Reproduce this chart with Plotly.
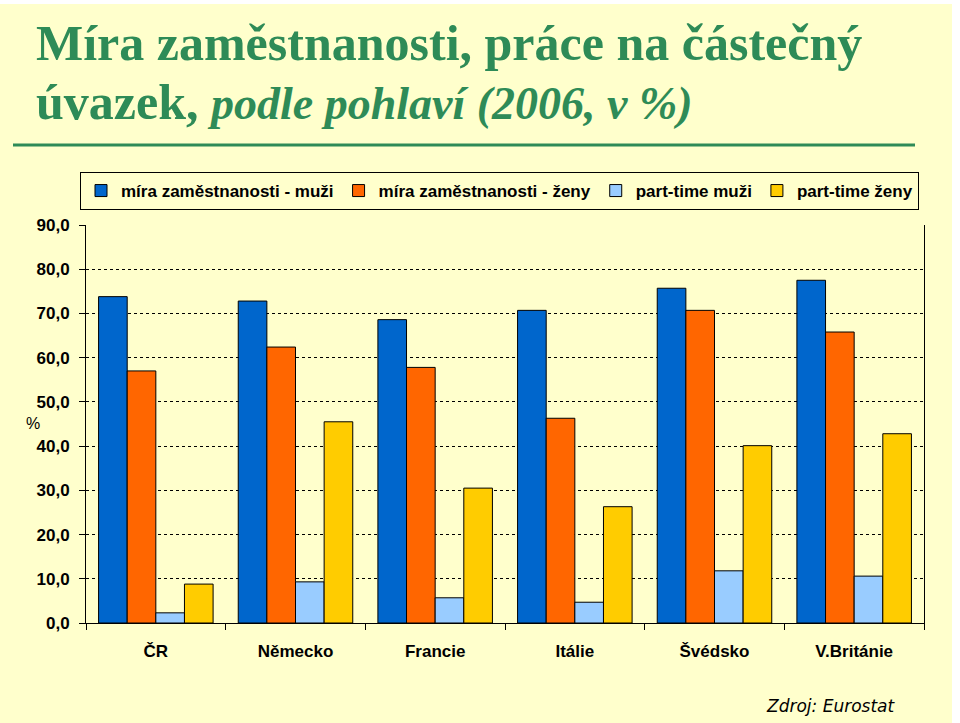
import plotly.graph_objects as go

# data
countries = ["ČR", "Německo", "Francie", "Itálie", "Švédsko", "V.Británie"]
rate_men = [73.8, 72.8, 68.6, 70.7, 75.7, 77.5]
rate_women = [57.0, 62.4, 57.8, 46.3, 70.7, 65.8]
parttime_men = [2.3, 9.3, 5.7, 4.7, 11.8, 10.6]
parttime_women = [8.8, 45.5, 30.5, 26.3, 40.1, 42.8]

series_names = ["míra zaměstnanosti - muži", "míra zaměstnanosti - ženy",
                "part-time muži", "part-time ženy"]
y_ticks = [0, 10, 20, 30, 40, 50, 60, 70, 80, 90]

colors = ["#0066CC", "#FF6600", "#99CCFF", "#FFCC00"]
bg = "#FFFFCC"
green = "#2E8B57"

# plot area in pixels: x 86..924, y 225..623
W, H = 838, 398
def px(x):
    return (x - 86) / W
def py(y):
    return (623 - y) / H

fig = go.Figure()
for name, vals, col in zip(series_names,
                           [rate_men, rate_women, parttime_men, parttime_women],
                           colors):
    fig.add_trace(go.Bar(x=countries, y=vals, name=f"<b>{name}</b>",
                         marker=dict(color=col, line=dict(color="black", width=1))))

fig.update_layout(
    width=960, height=723,
    margin=dict(l=86, r=36, t=225, b=100),
    paper_bgcolor=bg, plot_bgcolor=bg,
    barmode="group", bargap=0.18, bargroupgap=0,
    font=dict(family="Liberation Sans", color="black", size=17),
    legend=dict(
        orientation="h", x=px(80), xanchor="left", y=py(172), yanchor="top",
        bgcolor=bg, bordercolor="black", borderwidth=1,
        font=dict(size=17, family="Liberation Sans"),
        traceorder="normal", tracegroupgap=0,
    ),
)

fig.update_xaxes(
    type="category", showgrid=False, showline=True, linecolor="black", linewidth=1,
    ticks="outside", tickson="boundaries", ticklen=6, tickcolor="black",
    tickvals=countries, ticktext=[f"<b>{c}</b>" for c in countries],
    tickfont=dict(size=17), ticklabelstandoff=13,
)
fig.update_yaxes(
    range=[0, 90], tickvals=y_ticks,
    ticktext=[f"<b>{v:.1f}</b>".replace(".", ",") for v in y_ticks],
    showline=True, linecolor="black", linewidth=1, mirror=True,
    ticks="outside", ticklen=6, tickcolor="black",
    showgrid=True, gridcolor="black", gridwidth=1, griddash="dot",
    zeroline=False, tickfont=dict(size=17), ticklabelstandoff=6,
)

# title, two lines
fig.add_annotation(text="<b>Míra zaměstnanosti, práce na částečný</b>",
                   xref="paper", yref="paper", x=px(34), xanchor="left",
                   y=py(43), yanchor="middle", showarrow=False,
                   font=dict(family="Liberation Serif", size=50, color=green))
fig.add_annotation(text="<b>úvazek, <i><span style='font-size:46px'>podle pohlaví (2006, v %)</span></i></b>",
                   xref="paper", yref="paper", x=px(34), xanchor="left",
                   y=py(102), yanchor="middle", showarrow=False,
                   font=dict(family="Liberation Serif", size=50, color=green))

# green rule under the title
fig.add_shape(type="line", xref="paper", yref="paper",
              x0=px(13), x1=px(915), y0=py(145), y1=py(145),
              line=dict(color=green, width=3))
# white edges of the slide
fig.add_shape(type="rect", xref="paper", yref="paper",
              x0=px(-10), x1=px(970), y0=py(4), y1=py(-10),
              fillcolor="white", line=dict(width=0), layer="below")
fig.add_shape(type="rect", xref="paper", yref="paper",
              x0=px(952), x1=px(970), y0=py(740), y1=py(-10),
              fillcolor="white", line=dict(width=0), layer="below")

fig.add_annotation(text="%", xref="paper", yref="paper", x=px(24), y=py(423),
                   showarrow=False, font=dict(size=16))
fig.add_annotation(text="<i>Zdroj: Eurostat</i>", xref="paper", yref="paper",
                   x=px(898), xanchor="right", y=py(706), yanchor="middle",
                   showarrow=False, font=dict(size=17, family="DejaVu Sans"))

fig.write_html("out.html", config={"displayModeBar": False},
               post_script="document.body.style.margin='0';")
